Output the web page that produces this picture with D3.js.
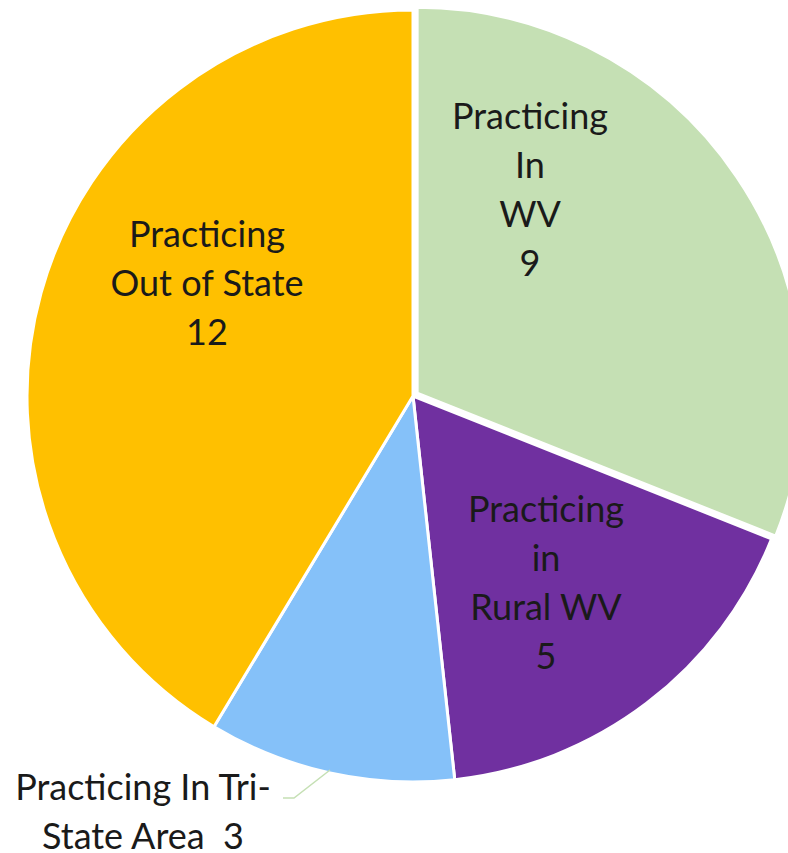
<!DOCTYPE html>
<html><head><meta charset="utf-8">
<script src="https://cdn.jsdelivr.net/npm/d3@7"></script>
<style>body{margin:0;background:#fff}svg{display:block}</style>
</head><body>
<svg id="c" width="788" height="853"></svg>
<script>
const categories = ["Practicing In WV", "Practicing in Rural WV", "Practicing In Tri-State Area", "Practicing Out of State"];
const values = [9, 5, 3, 12];
const colors = ["#C5E0B4", "#7030A0", "#85C1F9", "#FFC000"];
const labelLines = [
  ["Practicing", "In", "WV", "9"],
  ["Practicing", "in", "Rural WV", "5"],
  ["Practicing In Tri-", "State Area  3"],
  ["Practicing", "Out of State", "12"]
];

const svg = d3.select("#c");
const cx = 413, cy = 396, R = 386;
const g = svg.append("g").attr("transform", `translate(${cx},${cy})`);
const pie = d3.pie().sort(null).value(d => d)(values);
const arc = d3.arc().innerRadius(0).outerRadius(R);
const explode = [5, 0, 0, 0];

g.selectAll("path").data(pie).join("path")
  .attr("d", arc)
  .attr("fill", (d, i) => colors[i])
  .attr("stroke", "#fff").attr("stroke-width", 3).attr("stroke-linejoin", "round")
  .attr("transform", (d, i) => {
    const a = (d.startAngle + d.endAngle) / 2;
    return `translate(${explode[i] * Math.sin(a)},${-explode[i] * Math.cos(a)})`;
  });

const labelPos = [
  {x: 530, y: 116},
  {x: 546, y: 509},
  {x: 143, y: 787},
  {x: 207, y: 234}
];
const lineH = 49;
labelLines.forEach((lines, i) => {
  const t = svg.append("text")
    .attr("font-family", "Lato, 'Open Sans', sans-serif")
    .attr("font-size", 36)
    .attr("fill", "#1a1a1a")
    .attr("text-anchor", "middle");
  lines.forEach((ln, j) => {
    t.append("tspan").attr("x", labelPos[i].x).attr("y", labelPos[i].y + j * lineH)
      .attr("dy", "0.35em").style("white-space", "pre").text(ln);
  });
});

// leader line for Tri-State slice
svg.append("polyline")
  .attr("points", "283,798 294,798 330,770")
  .attr("fill", "none").attr("stroke", "#C5E0B4").attr("stroke-width", 1.5);
</script>
</body></html>
